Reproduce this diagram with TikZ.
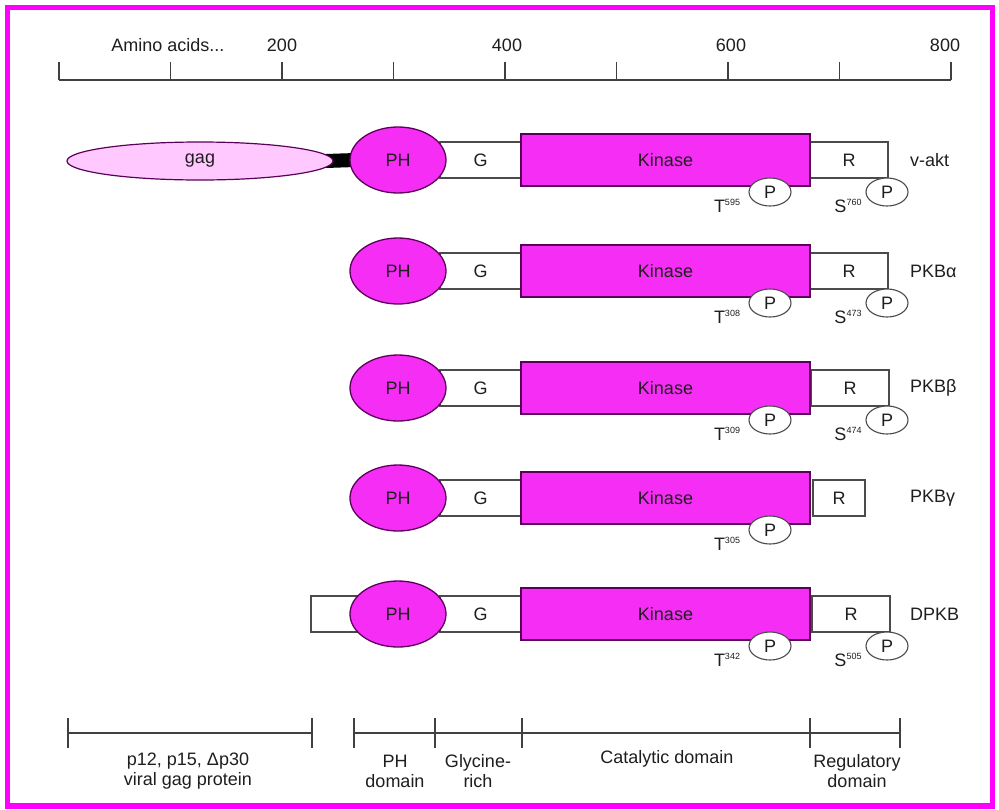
\documentclass[tikz,border=0pt]{standalone}
\usepackage{fontspec}
\setmainfont{Liberation Sans}
\usetikzlibrary{shapes.geometric,backgrounds}
\definecolor{frame}{RGB}{255,0,255}
\definecolor{kin}{RGB}{245,45,245}
\definecolor{kinline}{RGB}{90,0,90}
\definecolor{gagfill}{RGB}{255,200,255}
\definecolor{ink}{RGB}{30,30,30}
\newcommand\supn[1]{{\fontsize{9}{9}\selectfont\raisebox{7pt}{#1}}}
\newcommand\prow[6]{%
  \node[wbox, minimum width=81, minimum height=36] (g#1) at (480.5,#2) {G};
  \node[wbox, minimum width=#6, minimum height=36] (r#1) at (#5,#2) {R};
  \node[kbox, minimum width=289, minimum height=52] (k#1) at (665.5,#2) {Kinase};
  \node[phell] (ph#1) at (398,#2) {PH};
  \node[pell] (tp#1) at (770,#2+32) {P};
  \node[lab] (tl#1) at (727,#2+46) {T\supn{#4}};
  \node[lab, anchor=west] (n#1) at (910,#2) {#3};
}
\newcommand\spt[3]{%
  \node[pell] (sp#1) at (887,#2+32) {P};
  \node[lab] (sl#1) at (848,#2+46) {S\supn{#3}};
}
\begin{document}
\begin{tikzpicture}[x=1pt,y=-1pt,
  every node/.style={text=ink, font=\fontsize{18}{20}\selectfont},
  lab/.style={inner sep=0},
  wbox/.style={draw=ink!80, fill=white, line width=1.3, inner sep=0},
  kbox/.style={draw=kinline, fill=kin, line width=1.6, inner sep=0},
  phell/.style={ellipse, draw=kinline, fill=kin, line width=1.3, minimum width=96, minimum height=66, inner sep=0},
  pell/.style={ellipse, draw=ink!80, fill=white, line width=1.1, minimum width=42, minimum height=28, inner sep=0},
  tick/.style={draw=ink!85, line width=1.3}]
\useasboundingbox (0,0) rectangle (999,809);
\draw[frame, line width=5.5] (7.5,7.5) rectangle (992.5,806);

% scale bar
\coordinate (s0) at (59,80);
\coordinate (s8) at (951,80);
\draw[tick] (s0) -- (s8);
\foreach \k in {0,...,8} {
  \draw[tick] ({59+\k*111.5},62) -- ({59+\k*111.5},80);
}
\node[lab] (aa) at (168,45) {Amino acids...};
\node[lab] (l200) at (282,45) {200};
\node[lab] (l400) at (507,45) {400};
\node[lab] (l600) at (731,45) {600};
\node[lab] (l800) at (945,45) {800};

% v-akt row with gag
\node[ellipse, draw=kinline, fill=gagfill, line width=1.2, minimum width=266, minimum height=38, inner sep=0] (gag) at (200,161) {gag};
\prow{1}{160}{v-akt}{595}{849}{78}
\spt{1}{160}{760}
\begin{scope}[on background layer]
  \draw[line width=14, black] ([xshift=-8]gag.east) -- ([xshift=6]ph1.west);
\end{scope}

\prow{2}{271}{PKBα}{308}{849}{78}
\spt{2}{271}{473}

\prow{3}{388}{PKBβ}{309}{850}{78}
\spt{3}{388}{474}

\prow{4}{498}{PKBγ}{305}{839}{52}

\node[wbox, minimum width=49, minimum height=36] (e5) at (335.5,614) {};
\prow{5}{614}{DPKB}{342}{851}{78}
\spt{5}{614}{505}

% domain bars
\coordinate (b0) at (68,733);
\coordinate (b1) at (312,733);
\coordinate (c0) at (354,733);
\coordinate (c1) at (435,733);
\coordinate (c2) at (522,733);
\coordinate (c3) at (810,733);
\coordinate (c4) at (900,733);
\draw[tick] (b0) -- (b1);
\draw[tick] (c0) -- (c4);
\foreach \p in {b0,b1,c0,c1,c2,c3,c4} {
  \draw[tick] ([yshift=-15]\p) -- ([yshift=15]\p);
}
\node[lab, align=center] (d1) at (188,771) {p12, p15, Δp30\\viral gag protein};
\node[lab, align=center] (d2) at (395,771) {PH\\domain};
\node[lab, align=center] (d3) at (478,771) {Glycine-\\rich};
\node[lab] (d4) at (667,759) {Catalytic domain};
\node[lab, align=center] (d5) at (857,771) {Regulatory\\domain};
\end{tikzpicture}
\end{document}
